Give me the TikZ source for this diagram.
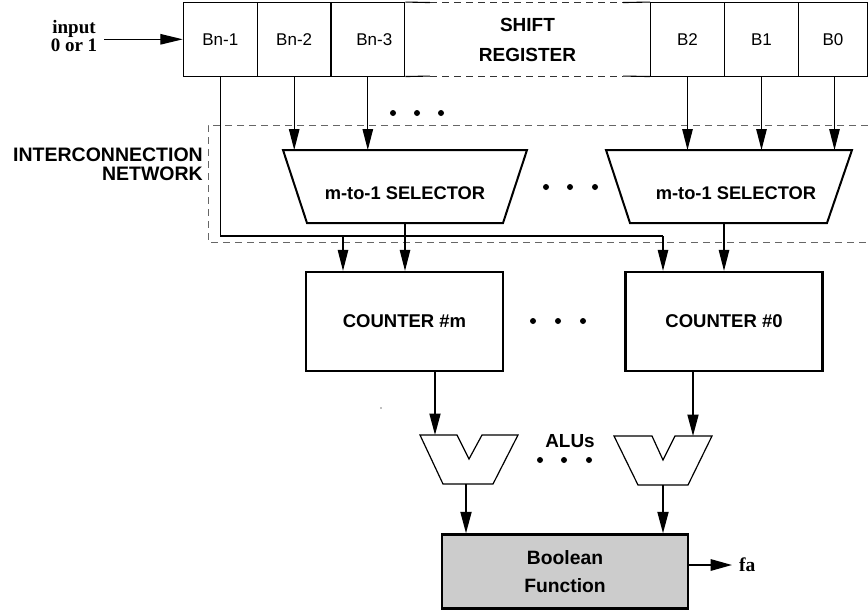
\documentclass[tikz,border=0pt]{standalone}
\usepackage{fontspec}
\setmainfont{Liberation Serif}
\setsansfont{Liberation Sans}
\usetikzlibrary{arrows.meta}
\begin{document}
\begin{tikzpicture}[x=1pt,y=-1pt,
  ln/.style={line width=1.1pt},
  arr/.style={line width=1.2pt,-{Triangle[length=21pt,width=10.5pt]}},
  arrb/.style={line width=1.8pt,-{Triangle[length=21.5pt,width=11pt]}},
  cell/.style={draw,line width=1pt,minimum width=74pt,minimum height=73.5pt,inner sep=0pt,font=\sffamily\fontsize{17}{20}\selectfont},
  box/.style={draw,line width=2.3pt,minimum width=197pt,minimum height=99pt,inner sep=0pt,font=\sffamily\bfseries\fontsize{18.5}{22}\selectfont},
  seltext/.style={inner sep=0pt,font=\sffamily\bfseries\fontsize{18.3}{22}\selectfont},
  selshape/.style={line width=2pt,line join=miter},
  alushape/.style={line width=1.2pt,line join=miter},
  dsh/.style={draw=black!60,line width=1pt,dash pattern=on 7pt off 5pt},
  srdsh/.style={draw=black!80,line width=1pt,dash pattern=on 7pt off 5pt},
  dotc/.style={radius=3pt}]
\useasboundingbox (0,0) rectangle (868,611);

% shift register
\node[cell] (bn1) at (220.3,39.3) {Bn-1};
\node[cell] (bn2) at (294.2,39.3) {Bn-2};
\node[cell] (bn3) at (367.8,39.3) {\hspace*{13pt}Bn-3};
\node[cell] (b2) at (687.5,39.3) {B2};
\node[cell] (b1) at (761.5,39.3) {B1};
\node[cell,minimum width=69pt] (b0) at (833,39.3) {B0};
\node[inner sep=0pt,align=center,font=\sffamily\bfseries\fontsize{19}{30}\selectfont] (sr) at (527.5,40) {SHIFT\\REGISTER};
\draw[ln] (bn3.north east) -- (430,2.55);
\draw[srdsh] (430,2.55) -- (623,2.55);
\draw[ln] (623,2.55) -- (b2.north west);
\draw[ln] (bn3.south east) -- (430,76.05);
\draw[srdsh] (430,76.05) -- (623,76.05);
\draw[ln] (623,76.05) -- (b2.south west);

% input
\node[inner sep=0pt,align=center,font=\bfseries\fontsize{19}{18.7}\selectfont] (inp) at (74,36) {input\\0 or 1};
\coordinate (ia) at (104,39.3);
\draw[line width=1.2pt,-{Triangle[length=22.5pt,width=10.5pt]}] (ia) -- (bn1.west);

% interconnection network box
\draw[dsh] (868,125) -- (208,125) -- (208,242) -- (868,242);
\node[inner sep=0pt,align=right,anchor=east,font=\sffamily\bfseries\fontsize{19.5}{19.5}\selectfont] (icn) at (203,164.5) {INTERCONNECTION\\NETWORK};

% dots
\fill (393,113) circle[dotc];
\fill (417,113) circle[dotc];
\fill (441,113) circle[dotc];
\fill (546,187) circle[dotc];
\fill (570,187) circle[dotc];
\fill (595,187) circle[dotc];
\fill (533,321) circle[dotc];
\fill (558,321) circle[dotc];
\fill (583,321) circle[dotc];
\fill (540,460) circle[dotc];
\fill (564,460) circle[dotc];
\fill (589,460) circle[dotc];
\fill[black!50] (381,408) circle[radius=0.8pt];

% selectors
\draw[selshape] (283,150) -- (527,150) -- (503,223) -- (307,223) -- cycle;
\node[seltext] (sel1) at (405,193) {m-to-1 SELECTOR};
\draw[selshape] (606,150) -- (852,150) -- (827,223) -- (630,223) -- cycle;
\node[seltext] (sel2) at (736,193) {m-to-1 SELECTOR};
\coordinate (s1t) at (405,150);
\coordinate (s2t) at (729,150);
\coordinate (s1b) at (405,223);
\coordinate (s2b) at (724,223);

\draw[arr] (bn2.south) -- (bn2.south |- s1t);
\draw[arr] (bn3.south) -- (bn3.south |- s1t);
\draw[arr] (b2.south) -- (b2.south |- s2t);
\draw[arr] (b1.south) -- (b1.south |- s2t);
\draw[arr] ([xshift=1.5pt]b0.south) -- ([xshift=1.5pt]b0.south |- s2t);

% counters
\node[box] (cm) at (404.5,321.5) {COUNTER \#m};
\node[box] (c0) at (724,321.5) {COUNTER \#0};
\coordinate (j1) at (343,236);
\coordinate (j2) at (663,236);
\draw[ln] (bn1.south) |- (j2);
\draw[arr] (j2) -- (j2 |- c0.north);
\draw[arr] (j1) -- (j1 |- cm.north);
\draw[arr] (s1b) -- (s1b |- cm.north);
\draw[arr] (s2b) -- (s2b |- c0.north);

% ALUs
\draw[alushape] (420,435) -- (457,435) -- (469,459) -- (482,435) -- (518,435) -- (493,484) -- (443,484) -- cycle;
\draw[alushape] (614,436) -- (652,436) -- (663,460) -- (675,436) -- (712,436) -- (688,485) -- (638,485) -- cycle;
\node[inner sep=0pt,font=\sffamily\bfseries\fontsize{18.9}{22}\selectfont] (alus) at (570,441.5) {ALUs};
\coordinate (a1t) at (435,435);
\coordinate (a2t) at (693,436);
\coordinate (a1b) at (466,484);
\coordinate (a2b) at (663,485);
\draw[arrb] (cm.south -| a1t) -- (a1t);
\draw[arrb] (c0.south -| a2t) -- (a2t);

% Boolean function
\node[draw,line width=2.3pt,fill=black!20,minimum width=246pt,minimum height=74pt,inner sep=0pt,align=center,font=\sffamily\bfseries\fontsize{19.3}{28}\selectfont] (bf) at (565,571.5) {Boolean\\Function};
\draw[arrb] (a1b) -- (a1b |- bf.north);
\draw[arrb] (a2b) -- (a2b |- bf.north);
\node[inner sep=0pt,anchor=west,font=\bfseries\fontsize{19.5}{22}\selectfont] (fa) at (739,565) {fa};
\coordinate (fo) at (688,565);
\draw[line width=1.7pt,-{Triangle[length=21.5pt,width=11.5pt]},shorten >=7pt] (fo) -- (fa.west);
\end{tikzpicture}
\end{document}
